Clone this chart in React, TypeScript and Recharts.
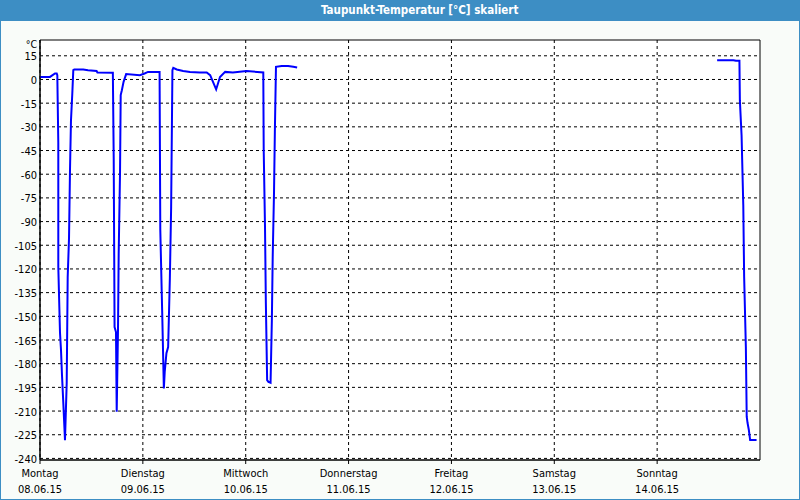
import React from "react";
import {
  LineChart,
  Line,
  XAxis,
  YAxis,
  CartesianGrid,
  ReferenceArea,
} from "recharts";

// time in hours since Montag 08.06.15 00:00
const hours: number[] = [
  0, 2.33, 3.5, 3.9, 4.04, 4.27, 4.27, 4.67, 4.9, 5.13, 5.44, 5.83, 6.23, 6.46,
  6.77, 7.0, 7.23, 7.54, 7.77, 8.0, 10.1, 11.2, 13.2, 13.4, 17.0, 17.2, 17.4,
  17.73, 17.9, 18.2, 18.36, 18.67, 18.83, 19.1, 19.5, 20.1, 23.3, 24.4, 25.2,
  27.9, 28.07, 28.5, 28.9, 29.1, 29.5, 29.9, 30.3, 30.6, 30.9, 31.1, 31.9, 33.4,
  35.0, 37.3, 38.9, 39.7, 41.1, 42.0, 43.2, 45.0, 48.2, 52.1, 52.2, 52.5, 52.7,
  53.0, 53.3, 53.8, 54.1, 54.3, 54.6, 54.8, 55.06, 56.4, 57.9, 59.1, 60.0,
  100, 158.0, 161.8, 162.4, 163.2, 163.3, 163.7, 164.1, 164.3, 164.7, 164.9,
  165.1, 165.4, 165.7, 167.2,
];

// dew point temperature [°C]
const temps: (number | null)[] = [
  1.6, 1.6, 3.8, 3.8, 2.7, -40.3, -118.8, -160.6, -171.4, -187.2, -205, -228.4,
  -192.3, -125.2, -100.5, -57.4, -25.8, -8.7, 5.9, 6.3, 6.3, 5.9, 5.4, 4.4, 4.3,
  -49.8, -156.8, -160, -210.5, -158.7, -110, -59.4, -9.9, -6.8, -1.5, 3.4,
  2.7, 3.8, 4.8, 4.8, -95.4, -146, -195.7, -185.2, -173.3, -169.5, -125.8,
  -80.7, 5.9, 7.3, 6.3, 5.4, 4.8, 4.4, 4.4, 2.7, -6.3, 1.6, 4.8, 4.4, 5.4, 4.4,
  -44.8, -93.3, -141.6, -190.4, -191.5, -192.1, -152.4, -112.3, -72, -33.2, 8,
  8.6, 8.6, 8, 7.6,
  null, 12.2, 12.2, 11.8, 11.8, -13.1, -35.3, -79.6, -125, -169.3, -213.6,
  -217.6, -222, -228.4, -228.4,
];

const dayTicks: number[] = [0, 24, 48, 72, 96, 120, 144];
const dayNames: string[] = [
  "Montag",
  "Dienstag",
  "Mittwoch",
  "Donnerstag",
  "Freitag",
  "Samstag",
  "Sonntag",
];
const dayDates: string[] = [
  "08.06.15",
  "09.06.15",
  "10.06.15",
  "11.06.15",
  "12.06.15",
  "13.06.15",
  "14.06.15",
];
const yTicks: number[] = [
  15, 0, -15, -30, -45, -60, -75, -90, -105, -120, -135, -150, -165, -180,
  -195, -210, -225, -240,
];

const title = "Taupunkt-Temperatur [°C] skaliert";
const unit = "°C";

const data = hours.map((h, i) => ({ h, t: temps[i] }));

const FONT = "'DejaVu Sans Condensed', 'DejaVu Sans', Tahoma, sans-serif";

const XTick = (props: any) => {
  const { x, payload } = props;
  const i = dayTicks.indexOf(payload.value);
  return (
    <g>
      <text x={x} y={477} textAnchor="middle" fontFamily={FONT} fontSize={11} fill="#000">
        {dayNames[i]}
      </text>
      <text x={x} y={493} textAnchor="middle" fontFamily={FONT} fontSize={11} fill="#000">
        {dayDates[i]}
      </text>
    </g>
  );
};

const YTick = (props: any) => {
  const { y, payload } = props;
  return (
    <text x={37} y={y + 4.5} textAnchor="end" fontFamily={FONT} fontSize={11} fill="#000">
      {payload.value}
    </text>
  );
};

export default function App() {
  return (
    <div
      style={{
        position: "absolute",
        left: 0,
        top: 0,
        width: 800,
        height: 500,
        background: "#f9fcf9",
        boxSizing: "border-box",
        border: "1px solid #3d8ec4",
        overflow: "hidden",
      }}
    >
      <div
        style={{
          position: "absolute",
          left: -1,
          top: -1,
          width: 800,
          height: 21,
          background: "#3d8ec4",
        }}
      />
      <div
        style={{
          position: "absolute",
          left: 320,
          top: -1,
          height: 21,
          color: "#fff",
          fontFamily: FONT,
          fontWeight: "bold",
          fontSize: 11.5,
          lineHeight: "21px",
          whiteSpace: "nowrap",
        }}
      >
        {title}
      </div>
      <div style={{ position: "absolute", left: -1, top: -1 }}>
        <LineChart
          width={800}
          height={500}
          data={data}
          margin={{ top: 40, right: 40, bottom: 0, left: 0 }}
        >
          <CartesianGrid
            stroke="#000"
            strokeDasharray="3 3"
            fill="#ffffff"
            fillOpacity={1}
            horizontalValues={yTicks}
            verticalValues={dayTicks}
          />
          <XAxis
            dataKey="h"
            type="number"
            domain={[0, 168]}
            ticks={dayTicks}
            allowDataOverflow
            height={40}
            stroke="#000"
            tickSize={4}
            tick={<XTick />}
            interval={0}
          />
          <YAxis
            type="number"
            domain={[-241, 25]}
            ticks={yTicks}
            allowDataOverflow
            width={40}
            stroke="#000"
            tickLine={false}
            tick={<YTick />}
            interval={0}
            label={{
              position: "insideTopRight",
              content: () => (
                <text x={37} y={47.5} textAnchor="end" fontFamily={FONT} fontSize={10.5} fill="#000">
                  {unit}
                </text>
              ),
            }}
          />
          <ReferenceArea
            x1={0}
            x2={168}
            y1={-241}
            y2={25}
            fill="none"
            stroke="#000"
            strokeWidth={1}
            ifOverflow="visible"
          />
          <Line
            type="linear"
            dataKey="t"
            stroke="#0000ff"
            strokeWidth={2}
            dot={false}
            connectNulls={false}
            isAnimationActive={false}
          />
        </LineChart>
      </div>
    </div>
  );
}
